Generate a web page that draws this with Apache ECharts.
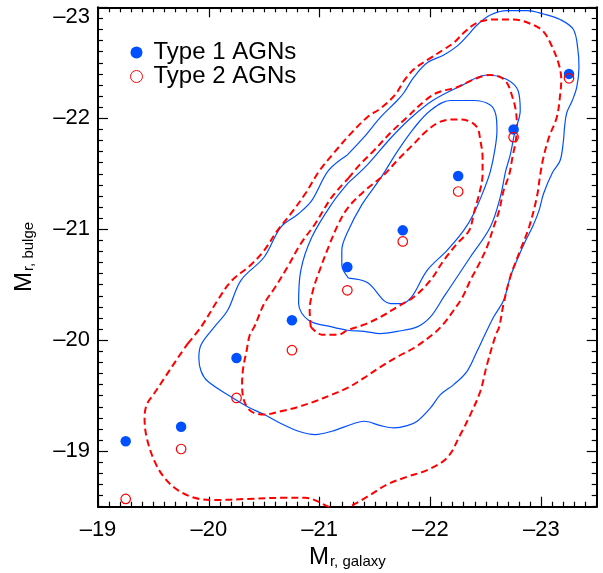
<!DOCTYPE html>
<html>
<head>
<meta charset="utf-8">
<script src="https://cdn.jsdelivr.net/npm/echarts@6/dist/echarts.min.js"></script>
<style>
html,body{margin:0;padding:0;background:#fff;}
#chart{width:603px;height:573px;}
</style>
</head>
<body>
<div id="chart"></div>
<script>
// ---- data ----
const xBins = [-19.25, -19.75, -20.25, -20.75, -21.25, -21.75, -22.25, -22.75, -23.25];
const type1Y = [-19.09, -19.22, -19.84, -20.18, -20.66, -20.99, -21.48, -21.90, -22.40];
const type2Y = [-18.57, -19.02, -19.48, -19.91, -20.45, -20.89, -21.34, -21.83, -22.36];

const xMajor = [-23, -22, -21, -20, -19];
const yMajor = [-23, -22, -21, -20, -19];

// blue solid contours (Type 1)
const blueOuter = [[-21.25,-21.67],[-21.40,-21.83],[-21.55,-22.01],[-21.70,-22.16],[-21.76,-22.23],[-21.85,-22.37],[-21.97,-22.50],[-22.12,-22.57],[-22.24,-22.65],[-22.33,-22.74],[-22.42,-22.84],[-22.54,-22.93],[-22.69,-22.97],[-22.87,-22.97],[-23.02,-22.94],[-23.17,-22.89],[-23.29,-22.80],[-23.33,-22.62],[-23.34,-22.46],[-23.32,-22.28],[-23.28,-22.16],[-23.23,-22.05],[-23.21,-21.92],[-23.20,-21.80],[-23.17,-21.62],[-23.10,-21.51],[-23.02,-21.32],[-22.98,-21.17],[-22.92,-21.02],[-22.86,-20.90],[-22.78,-20.72],[-22.72,-20.57],[-22.66,-20.36],[-22.57,-20.21],[-22.51,-20.09],[-22.42,-19.90],[-22.33,-19.72],[-22.21,-19.60],[-22.09,-19.51],[-22.00,-19.39],[-21.88,-19.27],[-21.79,-19.23],[-21.67,-19.21],[-21.55,-19.23],[-21.40,-19.27],[-21.31,-19.25],[-21.11,-19.18],[-20.96,-19.15],[-20.81,-19.18],[-20.65,-19.25],[-20.50,-19.33],[-20.35,-19.40],[-20.20,-19.49],[-19.99,-19.63],[-19.93,-19.72],[-19.91,-19.84],[-19.93,-19.96],[-20.05,-20.12],[-20.17,-20.27],[-20.29,-20.54],[-20.50,-20.75],[-20.65,-21.02],[-20.81,-21.14],[-20.93,-21.26],[-21.08,-21.53],[-21.25,-21.67]];
const blueMid = [[-21.26,-21.42],[-21.43,-21.58],[-21.64,-21.82],[-21.82,-22.00],[-22.02,-22.16],[-22.27,-22.29],[-22.51,-22.39],[-22.69,-22.35],[-22.79,-22.25],[-22.81,-22.07],[-22.76,-21.87],[-22.72,-21.67],[-22.68,-21.53],[-22.63,-21.29],[-22.54,-21.02],[-22.36,-20.75],[-22.24,-20.57],[-22.12,-20.39],[-22.00,-20.21],[-21.88,-20.12],[-21.70,-20.08],[-21.55,-20.06],[-21.40,-20.08],[-21.25,-20.09],[-21.11,-20.12],[-20.90,-20.18],[-20.81,-20.33],[-20.83,-20.63],[-20.93,-20.93],[-21.11,-21.23],[-21.26,-21.42]];
const blueInner = [[-21.26,-20.56],[-21.20,-20.68],[-21.20,-20.81],[-21.25,-20.97],[-21.38,-21.22],[-21.55,-21.46],[-21.70,-21.70],[-21.85,-21.91],[-22.00,-22.07],[-22.18,-22.16],[-22.39,-22.16],[-22.54,-22.12],[-22.59,-22.03],[-22.60,-21.89],[-22.58,-21.71],[-22.54,-21.52],[-22.48,-21.35],[-22.39,-21.14],[-22.30,-20.99],[-22.15,-20.81],[-21.97,-20.63],[-21.83,-20.39],[-21.74,-20.33],[-21.64,-20.33],[-21.43,-20.52],[-21.26,-20.56]];

// red dashed contours (Type 2)
const redOuter = [[-19.81,-19.97],[-19.93,-20.12],[-20.08,-20.36],[-20.20,-20.53],[-20.38,-20.68],[-20.50,-20.81],[-20.62,-20.99],[-20.74,-21.14],[-20.87,-21.32],[-21.00,-21.53],[-21.13,-21.69],[-21.27,-21.85],[-21.43,-22.01],[-21.55,-22.09],[-21.68,-22.21],[-21.77,-22.35],[-21.86,-22.45],[-21.98,-22.53],[-22.12,-22.62],[-22.21,-22.68],[-22.30,-22.77],[-22.42,-22.86],[-22.57,-22.89],[-22.75,-22.89],[-22.93,-22.84],[-23.02,-22.78],[-23.10,-22.64],[-23.16,-22.48],[-23.18,-22.35],[-23.17,-22.21],[-23.14,-22.01],[-23.07,-21.83],[-23.02,-21.65],[-22.99,-21.49],[-22.96,-21.29],[-22.89,-21.02],[-22.81,-20.81],[-22.72,-20.57],[-22.66,-20.33],[-22.62,-20.12],[-22.59,-20.05],[-22.51,-19.78],[-22.45,-19.54],[-22.36,-19.33],[-22.27,-19.15],[-22.15,-18.94],[-21.97,-18.83],[-21.79,-18.77],[-21.61,-18.70],[-21.43,-18.59],[-21.31,-18.52],[-21.18,-18.45],[-21.08,-18.50],[-20.87,-18.58],[-20.69,-18.58],[-20.35,-18.57],[-20.05,-18.56],[-19.87,-18.58],[-19.72,-18.65],[-19.60,-18.76],[-19.51,-18.91],[-19.44,-19.12],[-19.42,-19.30],[-19.44,-19.42],[-19.50,-19.51],[-19.60,-19.66],[-19.72,-19.84],[-19.81,-19.97]];
const redMid = [[-21.26,-21.46],[-21.36,-21.58],[-21.49,-21.71],[-21.64,-21.87],[-21.79,-22.01],[-21.94,-22.15],[-22.06,-22.23],[-22.24,-22.28],[-22.39,-22.35],[-22.54,-22.39],[-22.63,-22.37],[-22.69,-22.32],[-22.74,-22.19],[-22.77,-22.07],[-22.78,-21.92],[-22.77,-21.80],[-22.74,-21.65],[-22.71,-21.49],[-22.66,-21.35],[-22.62,-21.17],[-22.57,-21.02],[-22.51,-20.84],[-22.44,-20.69],[-22.36,-20.54],[-22.29,-20.39],[-22.21,-20.27],[-22.12,-20.15],[-22.03,-20.06],[-21.85,-19.93],[-21.70,-19.85],[-21.55,-19.76],[-21.40,-19.66],[-21.25,-19.57],[-21.11,-19.51],[-20.96,-19.45],[-20.81,-19.40],[-20.65,-19.36],[-20.50,-19.33],[-20.38,-19.36],[-20.32,-19.45],[-20.30,-19.60],[-20.31,-19.75],[-20.34,-19.90],[-20.37,-20.05],[-20.41,-20.12],[-20.50,-20.33],[-20.60,-20.48],[-20.71,-20.66],[-20.83,-20.87],[-20.96,-21.05],[-21.11,-21.29],[-21.26,-21.46]];
const redInner = [[-20.92,-20.12],[-20.91,-20.27],[-20.94,-20.45],[-21.00,-20.63],[-21.08,-20.84],[-21.17,-21.05],[-21.26,-21.20],[-21.41,-21.35],[-21.58,-21.49],[-21.70,-21.62],[-21.85,-21.77],[-21.97,-21.89],[-22.09,-21.97],[-22.21,-21.99],[-22.33,-21.98],[-22.42,-21.92],[-22.45,-21.80],[-22.47,-21.65],[-22.47,-21.49],[-22.44,-21.32],[-22.39,-21.14],[-22.35,-20.99],[-22.24,-20.87],[-22.12,-20.72],[-22.00,-20.54],[-21.85,-20.39],[-21.70,-20.30],[-21.55,-20.21],[-21.40,-20.14],[-21.25,-20.09],[-21.17,-20.05],[-21.02,-20.05],[-20.92,-20.12]];

// ---- chart ----
const FONT = '"Liberation Sans", Arial, Helvetica, sans-serif';
const BLUE = '#0050ff';
const RED = '#ff0000';

function minorVals(lo, hi) {
  const v = [];
  for (let i = Math.round(lo * 10); i <= Math.round(hi * 10); i++) {
    if (i % 10 !== 0) v.push(i / 10);
  }
  return v;
}
const xMinor = minorVals(-23.5, -19);
const yMinor = minorVals(-23, -18.5);

const fmt = v => String(v).replace('-', '\u2013');

function tickAxis(kind, position, vals, len, withLine) {
  const isX = kind === 'x';
  return {
    type: 'value',
    position: position,
    min: isX ? -23.5 : -23,
    max: isX ? -19 : -18.5,
    inverse: true,
    axisLine: { show: withLine, onZero: false, lineStyle: { color: '#000', width: 2 } },
    axisTick: { show: true, inside: true, length: len, customValues: vals, lineStyle: { color: '#000', width: 1.2 } },
    axisLabel: { show: false },
    splitLine: { show: false }
  };
}

const xMain = tickAxis('x', 'bottom', xMajor, 10, true);
xMain.axisLabel = {
  show: true, customValues: xMajor, formatter: fmt, fontSize: 22, color: '#000',
  fontFamily: FONT, margin: 12
};
xMain.name = '{m|M}{s|r, galaxy}';
xMain.nameLocation = 'middle';
xMain.nameGap = 36;
xMain.nameTextStyle = {
  fontFamily: FONT, color: '#000',
  rich: {
    m: { fontSize: 24, fontFamily: FONT, color: '#000', verticalAlign: 'bottom' },
    s: { fontSize: 15, fontFamily: FONT, color: '#000', verticalAlign: 'bottom', padding: [0, 0, 0, 1] }
  }
};

const yMain = tickAxis('y', 'left', yMajor, 10, true);
yMain.axisLabel = {
  show: true, customValues: yMajor, fontSize: 22, color: '#000', fontFamily: FONT, margin: 8,
  formatter: v => (v === -23 ? '{t|' + fmt(v) + '}' : fmt(v)),
  rich: { t: { fontSize: 22, fontFamily: FONT, color: '#000', padding: [20, 0, 0, 0] } }
};
yMain.name = '{m|M}{s|r, bulge}';
yMain.nameLocation = 'middle';
yMain.nameGap = 62;
yMain.nameTextStyle = {
  fontFamily: FONT, color: '#000',
  rich: {
    m: { fontSize: 24, fontFamily: FONT, color: '#000', verticalAlign: 'bottom' },
    s: { fontSize: 15, fontFamily: FONT, color: '#000', verticalAlign: 'bottom', padding: [0, 0, 0, 1] }
  }
};

function contour(data, color, dashed) {
  return {
    type: 'line', data: data, showSymbol: false, symbol: 'none', smooth: 0.35,
    lineStyle: { color: color, width: dashed ? 2 : 1.2, type: dashed ? [7, 4] : 'solid', opacity: 1 },
    silent: true, z: 1, clip: true
  };
}

const zip = (xs, ys) => xs.map((x, i) => [x, ys[i]]);

const option = {
  animation: false,
  backgroundColor: '#fff',
  textStyle: { fontFamily: FONT },
  grid: { left: 98, right: 6.3, top: 7.3, bottom: 66.3, containLabel: false, outerBoundsMode: 'none' },
  legend: {
    orient: 'vertical', left: 130, top: 40.5, padding: 0, itemWidth: 12, itemHeight: 12, itemGap: 0,
    selectedMode: false,
    textStyle: { fontSize: 24, fontFamily: FONT, color: '#000', lineHeight: 23, padding: [0, 0, 0, 6] },
    data: [
      { name: 'Type 1 AGNs', icon: 'circle' },
      { name: 'Type 2 AGNs', icon: 'circle', itemStyle: { color: 'rgba(255,255,255,0)', borderColor: RED, borderWidth: 1 } }
    ]
  },
  xAxis: [
    xMain,
    tickAxis('x', 'bottom', xMinor, 5, false),
    tickAxis('x', 'top', xMajor, 10, true),
    tickAxis('x', 'top', xMinor, 5, false)
  ],
  yAxis: [
    yMain,
    tickAxis('y', 'left', yMinor, 5, false),
    tickAxis('y', 'right', yMajor, 10, true),
    tickAxis('y', 'right', yMinor, 5, false)
  ],
  series: [
    contour(blueOuter, BLUE, false),
    contour(blueMid, BLUE, false),
    contour(blueInner, BLUE, false),
    contour(redOuter, RED, true),
    contour(redMid, RED, true),
    contour(redInner, RED, true),
    {
      type: 'scatter', name: 'Type 1 AGNs', data: zip(xBins, type1Y), symbol: 'circle', symbolSize: 10.5,
      itemStyle: { color: BLUE, opacity: 1 }, z: 3
    },
    {
      type: 'scatter', name: 'Type 2 AGNs', data: zip(xBins, type2Y), symbol: 'circle', symbolSize: 9.5,
      itemStyle: { color: 'rgba(255,255,255,0)', borderColor: RED, borderWidth: 1.2, opacity: 1 }, z: 4
    }
  ]
};

const chart = echarts.init(document.getElementById('chart'), null, { renderer: 'canvas' });
chart.setOption(option);
</script>
</body>
</html>
